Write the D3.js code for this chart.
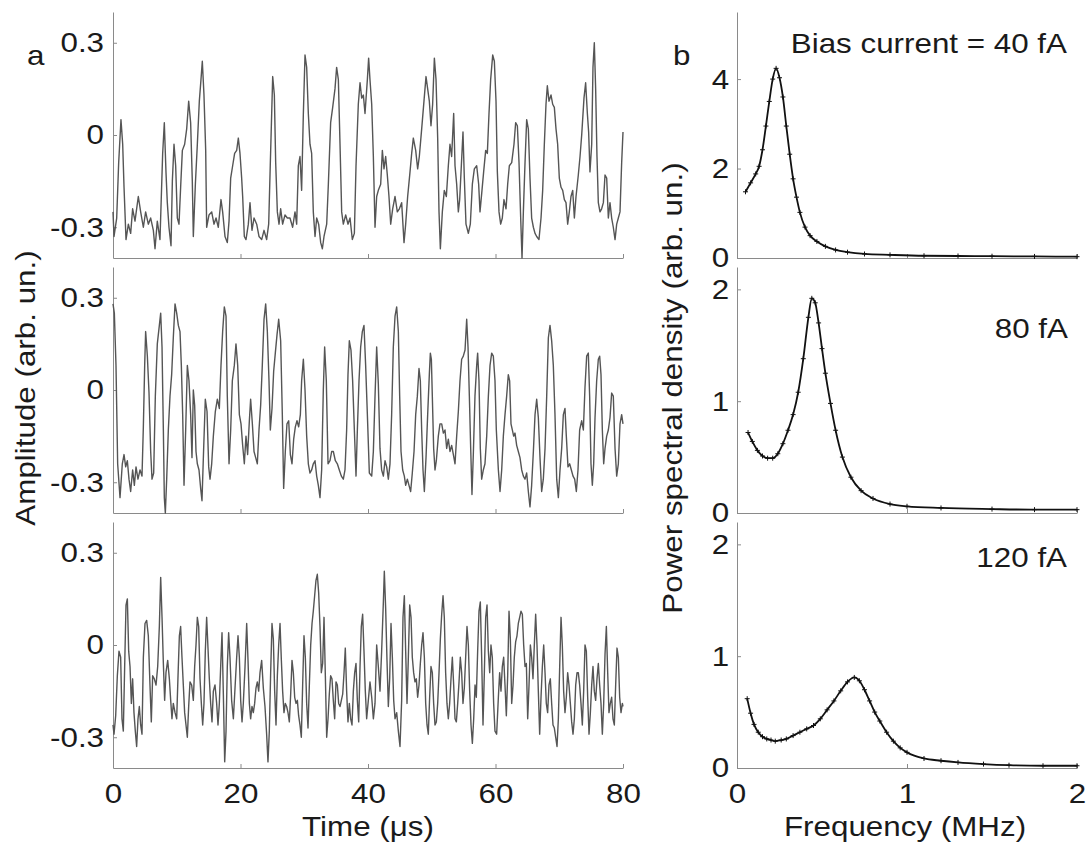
<!DOCTYPE html>
<html>
<head>
<meta charset="utf-8">
<script src="https://cdn.jsdelivr.net/npm/d3@7"></script>
<style>
  body { margin: 0; background: #fff; }
  text { font-family: "Liberation Sans", Arial, sans-serif; fill: #1a1a1a; }
</style>
</head>
<body>
<div id="chart"></div>
<script>
// ---- data ----
// panel a: amplitude traces, [time (us), amplitude (arb. un.)]
var trace40 = [[0,-0.25],[0.16,-0.33],[0.58,-0.27],[0.89,-0.09],[1.25,0.05],[1.52,-0.03],[1.73,-0.17],[2.04,-0.34],[2.41,-0.29],[2.77,-0.32],[3.08,-0.24],[3.45,-0.28],[3.97,-0.20],[4.34,-0.25],[4.76,-0.30],[5.12,-0.25],[5.54,-0.29],[5.91,-0.27],[6.33,-0.31],[6.59,-0.37],[6.95,-0.28],[7.37,-0.34],[7.79,-0.06],[8.05,0.04],[8.31,-0.12],[8.52,-0.22],[8.78,-0.30],[9.10,-0.36],[9.31,-0.15],[9.57,-0.03],[9.83,-0.10],[10.09,-0.27],[10.35,-0.29],[10.61,-0.17],[10.88,-0.05],[11.24,-0.03],[11.56,0.02],[11.87,0.11],[12.18,0.04],[12.44,-0.15],[12.60,-0.33],[12.92,-0.16],[13.23,-0.03],[13.54,0.11],[13.80,0.18],[14.01,0.24],[14.27,0.13],[14.54,-0.05],[14.69,-0.30],[15.06,-0.26],[15.48,-0.25],[15.84,-0.29],[16.16,-0.27],[16.52,-0.30],[16.94,-0.21],[17.20,-0.25],[17.57,-0.33],[17.93,-0.35],[18.20,-0.28],[18.46,-0.14],[18.77,-0.10],[19.08,-0.06],[19.40,-0.05],[19.66,-0.01],[19.92,-0.06],[20.18,-0.14],[20.34,-0.20],[20.60,-0.33],[20.86,-0.34],[21.23,-0.29],[21.49,-0.22],[21.80,-0.31],[22.12,-0.27],[22.54,-0.29],[22.90,-0.33],[23.32,-0.34],[23.69,-0.31],[24.10,-0.34],[24.42,-0.29],[24.68,-0.09],[25.05,0.19],[25.31,0.13],[25.52,-0.09],[25.78,-0.25],[26.04,-0.29],[26.30,-0.24],[26.61,-0.29],[26.98,-0.26],[27.35,-0.27],[27.76,-0.27],[28.18,-0.30],[28.55,-0.25],[28.81,-0.29],[29.07,-0.10],[29.33,-0.07],[29.59,-0.18],[29.86,0.07],[30.12,0.26],[30.38,0.22],[30.64,0.07],[30.90,-0.03],[31.16,-0.06],[31.42,-0.25],[31.69,-0.33],[31.95,-0.27],[32.26,-0.29],[32.58,-0.35],[32.84,-0.37],[33.10,-0.33],[33.52,-0.29],[33.78,-0.16],[34.14,0.04],[34.46,0.09],[34.82,0.15],[35.08,0.22],[35.35,0.18],[35.61,-0.03],[35.87,-0.25],[36.13,-0.29],[36.50,-0.26],[36.86,-0.29],[37.18,-0.27],[37.54,-0.34],[37.86,-0.32],[38.12,-0.10],[38.48,0.10],[38.75,0.17],[39.01,0.12],[39.27,0.13],[39.53,0.07],[39.90,0.18],[40.10,0.25],
  [40.31,0.18],[40.58,0.10],[40.84,-0.07],[41.10,-0.30],[41.36,-0.20],[41.62,-0.18],[41.99,-0.16],[42.25,-0.05],[42.51,-0.11],[42.77,-0.07],[43.03,-0.13],[43.29,-0.20],[43.56,-0.29],[43.87,-0.24],[44.24,-0.20],[44.60,-0.25],[44.92,-0.24],[45.28,-0.22],[45.65,-0.35],[45.91,-0.29],[46.22,-0.20],[46.59,-0.12],[46.85,-0.06],[47.11,-0.01],[47.48,-0.05],[47.79,-0.11],[48.05,-0.07],[48.42,0.02],[48.78,0.11],[49.10,0.19],[49.36,0.15],[49.62,0.11],[49.88,0.03],[50.14,0.10],[50.41,0.25],[50.67,0.18],[50.93,-0.01],[51.14,-0.25],[51.35,-0.37],[51.66,-0.25],[51.97,-0.18],[52.29,-0.20],[52.60,-0.10],[52.86,-0.03],[53.12,-0.07],[53.44,0.07],[53.65,-0.10],[53.91,-0.16],[54.17,-0.25],[54.38,-0.21],[54.64,-0.10],[54.90,0.01],[55.11,-0.14],[55.37,-0.29],[55.74,-0.32],[56.05,-0.29],[56.37,-0.16],[56.68,-0.11],[57.05,-0.10],[57.36,-0.16],[57.57,-0.25],[57.88,-0.18],[58.14,-0.12],[58.46,-0.05],[58.72,-0.06],[58.98,0.07],[59.24,0.18],[59.56,0.26],[59.82,0.24],[60.08,0.11],[60.29,-0.12],[60.55,-0.25],[60.81,-0.29],[61.07,-0.27],[61.33,-0.21],[61.65,-0.24],[61.91,-0.16],[62.17,-0.10],[62.54,-0.09],[62.90,-0.03],[63.16,0.04],[63.43,0.03],[63.69,-0.09],[63.95,-0.27],[64.16,-0.40],[64.37,-0.25],[64.63,-0.09],[64.89,0.05],[65.15,0.02],[65.41,-0.14],[65.67,-0.27],[65.94,-0.30],[66.20,-0.32],[66.46,-0.33],[66.82,-0.34],[67.14,-0.27],[67.40,-0.18],[67.66,-0.03],[67.92,0.10],[68.13,0.16],[68.39,0.11],[68.71,0.13],[68.97,0.10],[69.23,0.09],[69.49,0.02],[69.75,-0.03],[70.01,-0.14],[70.28,-0.17],[70.54,-0.18],[70.80,-0.21],[71.06,-0.22],[71.32,-0.29],[71.58,-0.25],[71.84,-0.20],[72.11,-0.18],[72.37,-0.27],[72.63,-0.20],[72.99,-0.13],[73.26,-0.07],[73.52,0.00],[73.88,0.12],[74.14,0.17],[74.41,0.07],[74.61,0.01],[74.82,-0.12],[75.09,-0.03],[75.29,0.22],[75.50,0.30],[75.71,0.15],[75.92,-0.07],[76.13,-0.22],[76.39,-0.25],[76.65,-0.24],[76.92,-0.22],[77.18,-0.13],[77.44,-0.14],[77.70,-0.27],[77.96,-0.22],[78.22,-0.27],[78.48,-0.30],[78.75,-0.34],[79.01,-0.29],[79.27,-0.27],[79.53,-0.25],[79.79,-0.09],[80,0.01]];

var trace80 = [[0,0.28],[0.21,0.25],[0.47,0.08],[0.73,-0.24],[1.10,-0.35],[1.46,-0.24],[1.73,-0.21],[1.99,-0.25],[2.25,-0.23],[2.51,-0.29],[2.77,-0.33],[3.08,-0.26],[3.35,-0.31],[3.61,-0.25],[3.92,-0.29],[4.24,-0.26],[4.55,-0.28],[4.76,-0.12],[4.97,0.08],[5.12,0.19],[5.39,0.11],[5.65,-0.01],[5.91,-0.20],[6.12,-0.29],[6.38,-0.27],[6.64,-0.02],[6.95,0.15],[7.27,0.21],[7.48,0.25],[7.69,0.14],[7.90,-0.13],[8.05,-0.35],[8.21,-0.40],[8.42,-0.29],[8.68,-0.13],[8.94,-0.02],[9.20,0.05],[9.46,0.17],[9.73,0.28],[9.99,0.25],[10.25,0.21],[10.51,0.19],[10.72,0.08],[10.93,-0.08],[11.14,-0.31],[11.40,-0.13],[11.66,0.08],[11.92,0.03],[12.18,-0.08],[12.39,-0.22],[12.60,0.00],[12.81,-0.05],[13.02,-0.20],[13.23,-0.24],[13.49,-0.26],[13.75,-0.32],[13.96,-0.36],[14.22,-0.19],[14.48,-0.03],[14.75,-0.07],[15.01,-0.25],[15.22,-0.29],[15.48,-0.24],[15.74,-0.15],[16.05,-0.07],[16.37,-0.03],[16.68,-0.06],[16.94,0.08],[17.20,0.19],[17.46,0.27],[17.73,0.24],[17.93,-0.02],[18.20,-0.24],[18.46,-0.13],[18.72,0.03],[19.03,0.08],[19.29,0.15],[19.56,0.08],[19.82,-0.08],[20.08,-0.11],[20.34,-0.18],[20.60,-0.24],[20.86,-0.15],[21.12,-0.21],[21.39,-0.10],[21.59,-0.03],[21.86,-0.11],[22.12,-0.20],[22.38,-0.22],[22.64,-0.24],[22.90,-0.13],[23.16,-0.05],[23.42,0.08],[23.69,0.23],[23.95,0.28],[24.21,0.19],[24.47,0.03],[24.68,-0.13],[24.94,-0.06],[25.20,0.06],[25.46,0.12],[25.73,0.18],[25.99,0.23],[26.30,0.16],[26.56,-0.08],[26.77,-0.32],[27.03,-0.20],[27.29,-0.11],[27.56,-0.10],[27.82,-0.21],[28.08,-0.24],[28.34,-0.16],[28.60,-0.12],[28.86,-0.10],[29.12,-0.12],[29.39,-0.08],[29.59,0.03],[29.86,0.10],[30.12,0.00],[30.38,-0.15],[30.64,-0.24],[30.90,-0.27],[31.16,-0.26],[31.42,-0.24],[31.69,-0.23],[31.95,-0.28],[32.21,-0.31],[32.47,-0.35],[32.73,-0.26],[32.99,0.00],[33.20,0.14],[33.46,0.03],[33.73,-0.24],[34.04,-0.23],[34.30,-0.20],[34.56,-0.20],[34.88,-0.23],[35.19,-0.24],[35.50,-0.26],[35.82,-0.28],[36.13,-0.29],[36.39,-0.26],[36.65,-0.13],[36.86,0.05],[37.07,0.16],[37.33,0.13],[37.59,0.03],[37.86,-0.13],[38.12,-0.28],[38.33,-0.13],[38.59,0.03],[38.85,0.14],[39.11,0.19],[39.37,0.21],[39.63,0.08],[39.90,-0.08],
  [40.21,-0.27],[40.58,-0.28],[40.84,-0.20],[41.10,-0.02],[41.36,0.14],[41.62,0.02],[41.88,-0.19],[42.14,-0.26],[42.41,-0.28],[42.67,-0.23],[42.93,-0.25],[43.19,-0.29],[43.45,-0.24],[43.71,-0.08],[43.97,0.14],[44.24,0.24],[44.50,0.27],[44.76,0.19],[44.97,-0.02],[45.18,-0.20],[45.44,-0.26],[45.70,-0.28],[45.91,-0.31],[46.17,-0.29],[46.43,-0.31],[46.69,-0.33],[46.95,-0.27],[47.22,-0.20],[47.48,-0.08],[47.74,-0.02],[48.00,0.07],[48.21,0.03],[48.42,-0.13],[48.63,-0.26],[48.84,-0.33],[49.10,-0.22],[49.36,-0.08],[49.62,0.05],[49.78,0.12],[49.94,0.10],[50.09,-0.02],[50.30,-0.19],[50.51,-0.26],[50.72,-0.23],[51.03,-0.15],[51.29,-0.11],[51.56,-0.11],[51.82,-0.14],[52.08,-0.13],[52.34,-0.19],[52.60,-0.16],[52.86,-0.20],[53.12,-0.18],[53.39,-0.21],[53.65,-0.24],[53.91,-0.15],[54.17,-0.07],[54.43,0.03],[54.69,0.10],[54.95,0.11],[55.22,0.13],[55.48,0.23],[55.69,0.14],[55.90,-0.02],[56.11,-0.19],[56.31,-0.34],[56.52,-0.21],[56.78,-0.02],[57.05,0.08],[57.20,0.12],[57.41,0.03],[57.62,-0.19],[57.83,-0.29],[58.09,-0.26],[58.35,-0.24],[58.62,-0.15],[58.88,-0.02],[59.14,0.08],[59.40,0.12],[59.66,0.11],[59.92,0.03],[60.13,-0.13],[60.45,-0.26],[60.71,-0.33],[60.97,-0.26],[61.23,-0.15],[61.49,-0.08],[61.75,-0.02],[62.01,0.05],[62.22,0.03],[62.43,-0.11],[62.64,-0.13],[62.85,-0.15],[63.06,-0.14],[63.32,-0.18],[63.58,-0.20],[63.84,-0.22],[64.11,-0.26],[64.37,-0.28],[64.63,-0.29],[64.89,-0.27],[65.15,-0.33],[65.41,-0.38],[65.67,-0.31],[65.94,-0.20],[66.20,-0.08],[66.46,-0.03],[66.72,-0.09],[66.98,-0.22],[67.24,-0.33],[67.50,-0.29],[67.77,-0.19],[68.03,-0.02],[68.29,0.17],[68.55,0.21],[68.81,0.16],[69.07,0.08],[69.33,-0.08],[69.60,-0.29],[69.86,-0.35],[70.12,-0.26],[70.38,-0.19],[70.64,-0.08],[70.90,-0.06],[71.11,-0.15],[71.37,-0.25],[71.63,-0.24],[71.90,-0.26],[72.16,-0.28],[72.42,-0.29],[72.68,-0.33],[72.94,-0.26],[73.20,-0.13],[73.52,-0.10],[73.78,-0.13],[74.04,0.01],[74.30,0.11],[74.56,0.12],[74.77,-0.02],[74.98,-0.24],[75.19,-0.31],[75.40,-0.24],[75.61,-0.09],[75.87,0.03],[76.13,0.10],[76.34,0.11],[76.55,0.05],[76.76,-0.13],[76.97,-0.24],[77.18,-0.19],[77.44,-0.15],[77.70,-0.13],[77.96,-0.09],[78.22,-0.01],[78.48,-0.02],[78.75,-0.19],[79.01,-0.28],[79.27,-0.24],[79.53,-0.11],[79.79,-0.08],[80,-0.11]];

var trace120 = [[0,-0.26],[0.16,-0.29],[0.42,-0.23],[0.68,-0.10],[0.94,-0.02],[1.20,-0.04],[1.41,-0.24],[1.62,-0.28],[1.83,-0.07],[2.04,0.13],[2.25,0.15],[2.46,-0.02],[2.67,-0.07],[2.88,-0.19],[3.08,-0.11],[3.29,-0.22],[3.50,-0.28],[3.71,-0.33],[3.92,-0.24],[4.13,-0.20],[4.34,-0.26],[4.55,-0.29],[4.76,-0.04],[5.02,0.07],[5.28,0.08],[5.54,0.03],[5.80,-0.13],[6.01,-0.25],[6.22,-0.10],[6.48,-0.11],[6.75,-0.13],[7.01,-0.07],[7.27,0.06],[7.48,0.22],[7.69,0.09],[7.90,-0.06],[8.10,-0.18],[8.31,-0.09],[8.58,-0.05],[8.84,-0.11],[9.05,-0.18],[9.25,-0.24],[9.46,-0.19],[9.73,-0.22],[9.99,-0.24],[10.20,-0.10],[10.41,0.03],[10.61,0.06],[10.82,-0.04],[11.03,-0.13],[11.24,-0.22],[11.45,-0.26],[11.66,-0.30],[11.87,-0.20],[12.08,-0.12],[12.34,-0.13],[12.60,-0.18],[12.81,-0.07],[13.02,0.00],[13.23,0.09],[13.44,0.06],[13.65,-0.11],[13.86,-0.19],[14.07,-0.26],[14.27,-0.19],[14.48,-0.02],[14.69,0.09],[14.90,-0.01],[15.11,-0.11],[15.32,-0.19],[15.53,-0.25],[15.74,-0.15],[16.00,-0.13],[16.26,-0.19],[16.47,-0.26],[16.68,-0.19],[16.89,-0.07],[17.10,0.04],[17.31,-0.16],[17.52,-0.38],[17.73,-0.28],[17.93,-0.07],[18.14,0.04],[18.35,-0.04],[18.61,-0.18],[18.88,-0.24],[19.14,-0.14],[19.40,-0.04],[19.61,0.03],[19.82,-0.04],[20.03,-0.18],[20.24,-0.25],[20.44,-0.19],[20.71,-0.07],[20.97,0.07],[21.18,-0.05],[21.39,-0.19],[21.59,-0.24],[21.80,-0.20],[22.01,-0.22],[22.22,-0.19],[22.43,-0.14],[22.64,-0.12],[22.85,-0.15],[23.06,-0.09],[23.32,-0.05],[23.58,-0.14],[23.84,-0.20],[24.10,-0.29],[24.31,-0.38],[24.52,-0.28],[24.73,-0.09],[24.94,0.07],[25.15,0.02],[25.36,-0.15],[25.57,-0.26],[25.78,-0.10],[25.99,0.00],[26.20,0.07],[26.41,-0.05],[26.61,-0.15],[26.82,-0.22],[27.03,-0.19],[27.24,-0.20],[27.45,-0.22],[27.66,-0.25],[27.87,-0.16],[28.08,-0.05],[28.29,-0.09],[28.50,-0.17],[28.71,-0.19],[28.92,-0.18],[29.12,-0.23],[29.33,-0.26],[29.54,-0.30],[29.75,-0.13],[29.96,0.03],[30.17,-0.04],[30.38,-0.19],[30.59,-0.27],[30.80,-0.13],[31.01,0.00],[31.22,0.07],[31.42,0.11],[31.63,0.16],[31.84,0.21],[32.05,0.23],[32.26,0.17],[32.47,0.06],[32.68,-0.09],[32.89,-0.06],[33.10,0.09],[33.31,-0.10],[33.52,-0.30],[33.73,-0.24],[33.93,-0.16],[34.14,-0.10],[34.35,-0.11],[34.56,-0.18],[34.77,-0.24],[34.98,-0.12],[35.19,-0.13],[35.40,-0.19],[35.61,-0.20],[35.82,-0.18],[36.03,-0.16],[36.24,-0.09],[36.44,-0.01],[36.65,-0.15],[36.86,-0.25],[37.07,-0.19],[37.28,-0.24],[37.49,-0.26],[37.70,-0.15],[37.91,-0.09],[38.12,-0.06],[38.33,-0.18],[38.54,-0.25],[38.75,-0.07],[38.95,0.06],[39.16,0.10],[39.37,-0.02],[39.58,-0.15],[39.79,-0.24],[40.05,-0.18],
  [40.31,-0.12],[40.58,-0.17],[40.84,-0.24],[41.10,-0.19],[41.36,0.00],[41.62,-0.07],[41.88,-0.15],[42.14,-0.02],[42.41,0.14],[42.56,0.24],[42.77,0.12],[42.98,-0.05],[43.19,-0.20],[43.40,-0.11],[43.61,0.07],[43.82,-0.04],[44.03,-0.18],[44.24,-0.24],[44.50,-0.22],[44.76,-0.28],[45.02,-0.33],[45.28,-0.18],[45.49,0.09],[45.70,0.16],[45.91,-0.02],[46.12,-0.19],[46.33,-0.04],[46.54,0.13],[46.75,0.09],[46.95,-0.04],[47.16,-0.09],[47.37,-0.12],[47.58,-0.11],[47.79,-0.17],[48.00,-0.13],[48.21,-0.06],[48.42,0.00],[48.63,0.04],[48.84,-0.04],[49.05,-0.19],[49.26,-0.26],[49.46,-0.29],[49.67,-0.17],[49.88,-0.07],[50.09,-0.09],[50.30,-0.19],[50.51,-0.26],[50.72,-0.25],[50.93,-0.19],[51.14,-0.09],[51.35,0.02],[51.56,0.10],[51.77,0.16],[51.97,0.09],[52.18,-0.09],[52.39,-0.19],[52.60,-0.24],[52.81,-0.19],[53.02,-0.11],[53.23,-0.04],[53.44,-0.13],[53.65,-0.24],[53.86,-0.25],[54.07,-0.19],[54.28,-0.12],[54.48,-0.04],[54.69,-0.09],[54.90,-0.19],[55.11,-0.14],[55.32,-0.04],[55.53,0.06],[55.74,0.00],[55.95,-0.15],[56.16,-0.26],[56.37,-0.32],[56.58,-0.24],[56.79,-0.13],[56.99,-0.17],[57.20,-0.02],[57.41,0.11],[57.62,0.14],[57.83,-0.04],[58.04,-0.26],[58.25,-0.09],[58.46,0.09],[58.67,0.13],[58.88,-0.02],[59.09,-0.09],[59.29,0.00],[59.50,-0.04],[59.71,-0.19],[59.92,-0.28],[60.18,-0.29],[60.45,-0.17],[60.65,-0.09],[60.86,-0.15],[61.07,-0.07],[61.28,-0.04],[61.49,-0.13],[61.70,-0.23],[61.91,-0.10],[62.12,0.11],[62.33,0.02],[62.54,-0.19],[62.75,-0.13],[62.95,-0.04],[63.16,0.01],[63.37,0.03],[63.58,0.07],[63.79,0.09],[64.00,0.11],[64.21,0.10],[64.42,0.00],[64.63,-0.07],[64.84,-0.06],[65.05,-0.24],[65.26,-0.13],[65.47,0.00],[65.67,-0.04],[65.88,-0.11],[66.09,0.00],[66.30,0.10],[66.51,0.00],[66.72,-0.15],[66.93,-0.29],[67.14,-0.17],[67.35,-0.07],[67.56,0.00],[67.77,-0.09],[67.97,-0.19],[68.18,-0.22],[68.39,-0.13],[68.60,-0.11],[68.81,-0.19],[69.02,-0.26],[69.23,-0.27],[69.44,-0.30],[69.65,-0.33],[69.86,-0.24],[70.07,-0.07],[70.28,0.09],[70.48,0.00],[70.69,-0.15],[70.90,-0.22],[71.11,-0.17],[71.32,-0.09],[71.53,-0.13],[71.74,-0.19],[71.95,-0.25],[72.16,-0.29],[72.37,-0.24],[72.58,-0.13],[72.79,-0.09],[72.99,-0.09],[73.20,-0.13],[73.41,-0.19],[73.62,-0.26],[73.83,-0.15],[74.04,0.00],[74.25,-0.02],[74.46,-0.17],[74.67,-0.29],[74.88,-0.22],[75.09,-0.13],[75.29,-0.07],[75.50,-0.15],[75.71,-0.18],[75.92,-0.11],[76.13,-0.06],[76.34,-0.13],[76.55,-0.19],[76.76,-0.29],[76.97,-0.19],[77.18,-0.03],[77.39,0.06],[77.60,-0.09],[77.80,-0.22],[78.01,-0.19],[78.22,-0.17],[78.43,-0.24],[78.64,-0.26],[78.85,-0.13],[79.06,-0.01],[79.27,-0.04],[79.48,-0.17],[79.69,-0.22],[79.90,-0.19],[80,-0.20]];

// panel b: power spectral density, [frequency (MHz), PSD (arb. un.)]
var psd40 = [[0.05,1.48],[0.08,1.68],[0.11,1.88],[0.13,2.05],[0.15,2.42],[0.17,2.95],[0.19,3.5],[0.21,4.0],[0.23,4.24],[0.25,4.03],[0.27,3.6],[0.29,2.95],[0.31,2.32],[0.33,1.77],[0.35,1.36],[0.37,1.02],[0.40,0.69],[0.43,0.5],[0.47,0.37],[0.52,0.26],[0.58,0.18],[0.65,0.13],[0.75,0.09],[0.9,0.07],[1.1,0.05],[1.3,0.045],[1.5,0.04],[1.75,0.035],[2.0,0.03]];
var psd80 = [[0.065,0.72],[0.09,0.64],[0.12,0.56],[0.15,0.51],[0.18,0.49],[0.21,0.49],[0.24,0.53],[0.27,0.62],[0.30,0.74],[0.33,0.88],[0.36,1.08],[0.39,1.38],[0.42,1.75],[0.44,1.92],[0.46,1.88],[0.48,1.7],[0.50,1.47],[0.52,1.25],[0.55,0.98],[0.58,0.74],[0.62,0.5],[0.67,0.32],[0.73,0.2],[0.8,0.13],[0.9,0.08],[1.0,0.06],[1.2,0.045],[1.5,0.035],[1.75,0.03],[2.0,0.03]];
var psd120 = [[0.06,0.62],[0.08,0.49],[0.10,0.39],[0.125,0.32],[0.15,0.28],[0.175,0.26],[0.2,0.25],[0.225,0.24],[0.26,0.25],[0.29,0.26],[0.33,0.29],[0.37,0.32],[0.41,0.35],[0.45,0.38],[0.49,0.44],[0.53,0.52],[0.57,0.6],[0.61,0.69],[0.65,0.77],[0.69,0.81],[0.72,0.78],[0.75,0.7],[0.78,0.6],[0.81,0.5],[0.84,0.42],[0.88,0.32],[0.92,0.24],[0.96,0.18],[1.0,0.14],[1.1,0.085],[1.2,0.065],[1.3,0.05],[1.45,0.035],[1.6,0.025],[1.8,0.02],[2.0,0.02]];

var biasLabels = ["Bias current = 40 fA", "80 fA", "120 fA"];
var ampTicks = [-0.3, 0, 0.3];
var timeTicks = [0, 20, 40, 60, 80];
var freqTicks = [0, 1, 2];
var psdTicks = [[0, 2, 4], [0, 1, 2], [0, 1, 2]];
var psdMax = [5.5, 2.2, 2.2];

var traces = [trace40, trace80, trace120];
var spectra = [psd40, psd80, psd120];

// ---- layout ----
var W = 1089, H = 846;
var rows = [[12, 258], [267, 513], [522, 768]];
var leftX = [113, 623], rightX = [737, 1077];
var axisColor = "#8a8a8a";
var stretch = "scale(1.12,1)";

var svg = d3.select("#chart").append("svg")
  .attr("width", W).attr("height", H);

var xTime = d3.scaleLinear().domain([0, 80]).range(leftX);
var xFreq = d3.scaleLinear().domain([0, 2]).range(rightX);

// plain hyphen for negatives, like the original figure
function plain(d) { return String(d); }
function blank() { return ""; }

function styleAxis(g) {
  g.selectAll("path, line").attr("stroke", axisColor).attr("stroke-width", 1);
  g.selectAll("text")
    .attr("font-size", 28)
    .attr("font-family", "Liberation Sans, Arial, sans-serif")
    .attr("fill", "#1a1a1a")
    .attr("transform", stretch);
}

function addLabel(x, y, txt, anchor, rot) {
  svg.append("text")
    .attr("transform", "translate(" + x + "," + y + ") rotate(" + (rot || 0) + ") " + stretch)
    .attr("text-anchor", anchor)
    .attr("font-size", 28)
    .text(txt);
}

rows.forEach(function(r, i) {
  var last = i === rows.length - 1;

  // ---- left: amplitude traces ----
  var yAmp = d3.scaleLinear().domain([-0.4, 0.4]).range([r[1], r[0]]);

  svg.append("g")
    .attr("transform", "translate(0," + r[1] + ")")
    .call(d3.axisBottom(xTime).tickValues(timeTicks).tickSizeInner(-4).tickSizeOuter(0)
      .tickPadding(15).tickFormat(last ? plain : blank))
    .call(styleAxis);

  svg.append("g")
    .attr("transform", "translate(" + leftX[0] + ",0)")
    .call(d3.axisLeft(yAmp).tickValues(ampTicks).tickSizeInner(-4).tickSizeOuter(0)
      .tickPadding(8).tickFormat(plain))
    .call(styleAxis);

  svg.append("path")
    .datum(traces[i])
    .attr("fill", "none")
    .attr("stroke", "#555")
    .attr("stroke-width", 1.4)
    .attr("stroke-linejoin", "round")
    .attr("d", d3.line().x(function(d) { return xTime(d[0]); }).y(function(d) { return yAmp(d[1]); }));

  // ---- right: power spectra ----
  var yPsd = d3.scaleLinear().domain([0, psdMax[i]]).range([r[1], r[0]]);

  svg.append("g")
    .attr("transform", "translate(0," + r[1] + ")")
    .call(d3.axisBottom(xFreq).tickValues(freqTicks).tickSizeInner(-4).tickSizeOuter(0)
      .tickPadding(15).tickFormat(last ? plain : blank))
    .call(styleAxis);

  svg.append("g")
    .attr("transform", "translate(" + rightX[0] + ",0)")
    .call(d3.axisLeft(yPsd).tickValues(psdTicks[i]).tickSizeInner(-4).tickSizeOuter(0)
      .tickPadding(7).tickFormat(plain))
    .call(styleAxis);

  svg.append("path")
    .datum(spectra[i])
    .attr("fill", "none")
    .attr("stroke", "#111")
    .attr("stroke-width", 1.8)
    .attr("d", d3.line().curve(d3.curveMonotoneX)
      .x(function(d) { return xFreq(d[0]); }).y(function(d) { return yPsd(d[1]); }));

  svg.append("g").selectAll("path")
    .data(spectra[i])
    .join("path")
    .attr("transform", function(d) { return "translate(" + xFreq(d[0]) + "," + yPsd(d[1]) + ")"; })
    .attr("d", "M-2.5,0H2.5M0,-2.5V2.5")
    .attr("stroke", "#111")
    .attr("stroke-width", 1);
});

// ---- text ----
addLabel(1067, 53, biasLabels[0], "end");
addLabel(1068, 338, biasLabels[1], "end");
addLabel(1067, 567, biasLabels[2], "end");

addLabel(27, 65, "a", "start");
addLabel(673, 65, "b", "start");

addLabel(35, 388, "Amplitude (arb. un.)", "middle", -90);
addLabel(682, 388, "Power spectral density (arb. un.)", "middle", -90);

addLabel(368, 836, "Time (\u03bcs)", "middle");
addLabel(905, 836, "Frequency (MHz)", "middle");
</script>
</body>
</html>
